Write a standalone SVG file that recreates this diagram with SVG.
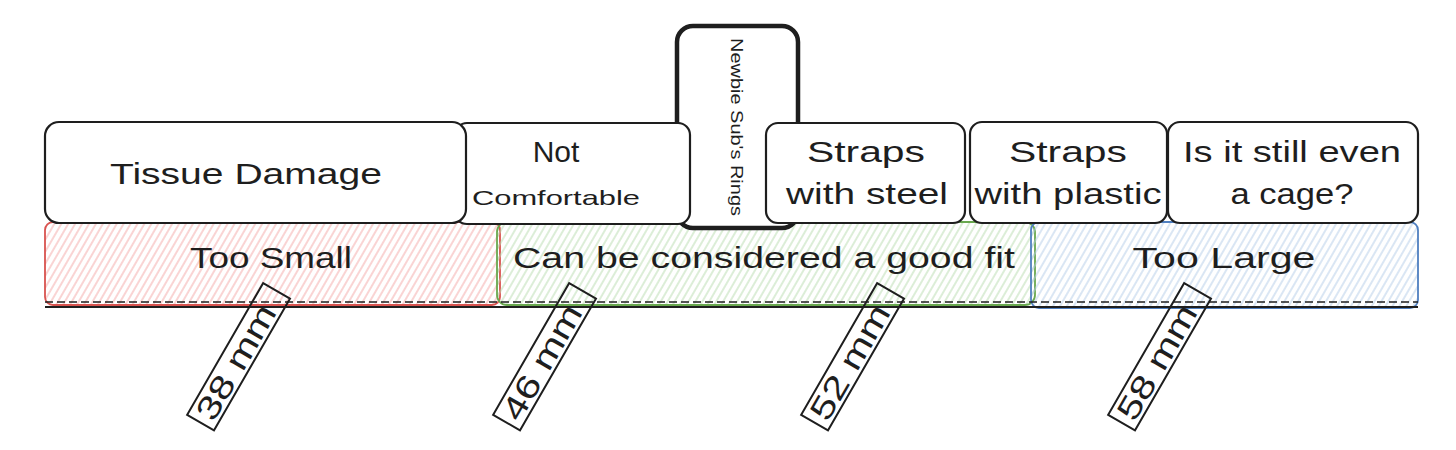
<svg xmlns="http://www.w3.org/2000/svg" width="1456" height="450" viewBox="0 0 1456 450">
<defs>
<pattern id="hRed" width="6" height="6" patternUnits="userSpaceOnUse" patternTransform="rotate(30)"><line x1="3" y1="0" x2="3" y2="6" stroke="#f4a9a8" stroke-width="1"/></pattern>
<pattern id="hGreen" width="6" height="6" patternUnits="userSpaceOnUse" patternTransform="rotate(30)"><line x1="3" y1="0" x2="3" y2="6" stroke="#b9dcb0" stroke-width="1"/></pattern>
<pattern id="hBlue" width="6" height="6" patternUnits="userSpaceOnUse" patternTransform="rotate(30)"><line x1="3" y1="0" x2="3" y2="6" stroke="#b5cde8" stroke-width="1"/></pattern>
<style>
.box{fill:#fff;stroke:#1e1e1e;stroke-width:2.2}
.t{font-family:"Liberation Sans",Arial,sans-serif;fill:#1e1e1e;text-anchor:middle}
.big{font-size:30px}
.sm{font-size:21px}
.tag{fill:none;stroke:#1e1e1e;stroke-width:2}
</style>
</defs>
<g id="bands">
<g id="too-small"><rect x="45" y="222" width="455" height="83" rx="8" fill="url(#hRed)" stroke="#d9534f" stroke-width="1.8"/><text class="t big" x="271" y="268" textLength="162" lengthAdjust="spacingAndGlyphs">Too Small</text></g>
<g id="good-fit"><rect x="497" y="222" width="538" height="83" rx="10" fill="url(#hGreen)" stroke="#69a84f" stroke-width="1.8"/><text class="t big" x="764" y="268" textLength="502" lengthAdjust="spacingAndGlyphs">Can be considered a good fit</text></g>
<g id="too-large"><rect x="1031" y="222" width="387" height="86" rx="8" fill="url(#hBlue)" stroke="#4f7fc0" stroke-width="1.8"/><text class="t big" x="1224" y="268" textLength="183" lengthAdjust="spacingAndGlyphs">Too Large</text></g>
</g>
<g id="connectors">
<line x1="45" y1="302" x2="1418" y2="302" stroke="#1e1e1e" stroke-width="1.6" stroke-dasharray="8 4"/>
<line x1="45" y1="307" x2="1418" y2="307" stroke="#1e1e1e" stroke-width="2"/>
</g>
<g id="newbie"><rect x="677" y="26" width="121" height="202" rx="16" fill="#fff" stroke="#1e1e1e" stroke-width="4.5"/><text class="t" font-size="17" transform="translate(731,127) rotate(90)" textLength="178" lengthAdjust="spacingAndGlyphs">Newbie Sub's Rings</text></g>
<g id="not-comfortable"><rect class="box" x="455" y="123" width="235" height="101" rx="12"/><text class="t big" x="556" y="162">Not</text><text class="t sm" x="556" y="205" textLength="168" lengthAdjust="spacingAndGlyphs">Comfortable</text></g>
<g id="tissue-damage"><rect class="box" x="45" y="122" width="421" height="101" rx="14"/><text class="t big" x="246" y="184" textLength="272" lengthAdjust="spacingAndGlyphs">Tissue Damage</text></g>
<g id="straps-steel"><rect class="box" x="766" y="123" width="199" height="100" rx="12"/><text class="t big" x="866" y="162" textLength="118" lengthAdjust="spacingAndGlyphs">Straps</text><text class="t big" x="867" y="204" textLength="162" lengthAdjust="spacingAndGlyphs">with steel</text></g>
<g id="straps-plastic"><rect class="box" x="970" y="122" width="197" height="101" rx="12"/><text class="t big" x="1068" y="162" textLength="118" lengthAdjust="spacingAndGlyphs">Straps</text><text class="t big" x="1068" y="204" textLength="187" lengthAdjust="spacingAndGlyphs">with plastic</text></g>
<g id="cage"><rect class="box" x="1168" y="122" width="250" height="101" rx="12"/><text class="t big" x="1292" y="162" textLength="218" lengthAdjust="spacingAndGlyphs">Is it still even</text><text class="t big" x="1292" y="204" textLength="123" lengthAdjust="spacingAndGlyphs">a cage?</text></g>
<g id="m38" transform="translate(239,357) rotate(-60)"><rect class="tag" x="-76" y="-16" width="152" height="31"/><text class="t" font-size="32" x="-6" y="11" textLength="128" lengthAdjust="spacingAndGlyphs">38 mm</text></g>
<g id="m46" transform="translate(545,357) rotate(-60)"><rect class="tag" x="-76" y="-16" width="152" height="31"/><text class="t" font-size="32" x="-6" y="11" textLength="128" lengthAdjust="spacingAndGlyphs">46 mm</text></g>
<g id="m52" transform="translate(853,357) rotate(-60)"><rect class="tag" x="-76" y="-16" width="152" height="31"/><text class="t" font-size="32" x="-6" y="11" textLength="128" lengthAdjust="spacingAndGlyphs">52 mm</text></g>
<g id="m58" transform="translate(1160,357) rotate(-60)"><rect class="tag" x="-76" y="-16" width="152" height="31"/><text class="t" font-size="32" x="-6" y="11" textLength="128" lengthAdjust="spacingAndGlyphs">58 mm</text></g>
</svg>
